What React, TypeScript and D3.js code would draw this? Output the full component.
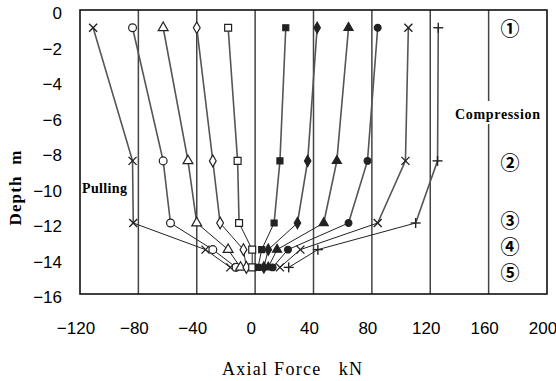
import React from 'react';
import * as d3 from 'd3';

// depths (m) of the five measuring points
const depths = [-1, -8.5, -12, -13.5, -14.5];

// axial force (kN) at each depth, one array per loading step
const seriesNames = ['s1', 's2', 's3', 's4', 's5', 's6', 's7', 's8', 's9', 's10', 's11'];
const seriesMarkers = ['x', 'circle', 'triangle', 'diamond', 'square', 'squareF', 'diamondF', 'triangleF', 'circleF', 'x', 'plus'];
const s1 = [-111, -84, -83.5, -34, -17];
const s2 = [-84, -63, -58, -29, -13];
const s3 = [-63, -46, -40, -18.5, -10];
const s4 = [-40, -29, -24, -8, -6];
const s5 = [-18.5, -12, -11, -2, -2];
const s6 = [21, 17, 13, 4.5, 2];
const s7 = [42.5, 36, 29, 9, 6];
const s8 = [64, 56, 47, 15, 9];
const s9 = [84, 77, 64, 22.5, 12];
const s10 = [105, 103, 84, 31, 17];
const s11 = [125.5, 125, 110, 43, 23];
const seriesValues = [s1, s2, s3, s4, s5, s6, s7, s8, s9, s10, s11];

const xTicks = [-120, -80, -40, 0, 40, 80, 120, 160, 200];
const yTicks = [0, -2, -4, -6, -8, -10, -12, -14, -16];
const gridX = [-80, -40, 0, 40, 80, 120, 160];
const stageLabels = ['①', '②', '③', '④', '⑤'];
const stageDepths = [-1.1, -8.7, -11.95, -13.4, -14.9];

const W = 556;
const H = 381;

const x = d3.scaleLinear().domain([-120, 200]).range([80, 547]);
const y = d3.scaleLinear().domain([0, -16]).range([10, 294]);

const minus = (v: number) => (v < 0 ? '\u2212' + Math.abs(v) : String(v));

const Marker = ({ type, cx, cy }: { type: string; cx: number; cy: number }) => {
  const filled = type.endsWith('F');
  const base = type.replace('F', '');
  const fill = filled ? '#222' : '#fff';
  if (base === 'x') {
    return (
      <g stroke="#222" strokeWidth={1.4}>
        <line x1={cx - 4} y1={cy - 4} x2={cx + 4} y2={cy + 4} />
        <line x1={cx - 4} y1={cy + 4} x2={cx + 4} y2={cy - 4} />
      </g>
    );
  }
  if (base === 'plus') {
    return (
      <g stroke="#222" strokeWidth={1.4}>
        <line x1={cx - 5} y1={cy} x2={cx + 5} y2={cy} />
        <line x1={cx} y1={cy - 5} x2={cx} y2={cy + 5} />
      </g>
    );
  }
  const symType =
    base === 'circle' ? d3.symbolCircle :
    base === 'triangle' ? d3.symbolTriangle :
    base === 'diamond' ? d3.symbolDiamond : d3.symbolSquare;
  const size = filled ? 36 : base === 'diamond' ? 40 : base === 'triangle' ? 42 : 48;
  const p = d3.symbol().type(symType).size(size)() as string;
  return (
    <path d={p} transform={`translate(${cx},${cy})`} fill={fill} stroke="#222" strokeWidth={1.2} />
  );
};

export default function App() {
  const line = d3.line<[number, number]>().x((d) => x(d[0])).y((d) => y(d[1]));

  return (
    <svg width={W} height={H} style={{ position: 'absolute', left: 0, top: 0, background: '#fff' }}>
      {/* vertical grid lines */}
      {gridX.map((v) =>
        v === 160 ? (
          <g key={v}>
            <line x1={x(v)} x2={x(v)} y1={y(0)} y2={101} stroke="#444" strokeWidth={1.5} />
            <line x1={x(v)} x2={x(v)} y1={124} y2={y(-16)} stroke="#444" strokeWidth={1.5} />
          </g>
        ) : (
          <line key={v} x1={x(v)} x2={x(v)} y1={y(0)} y2={y(-16)} stroke="#444" strokeWidth={1.5} />
        )
      )}
      <rect x={x(-120)} y={y(0)} width={x(200) - x(-120)} height={y(-16) - y(0)} fill="none" stroke="#111" strokeWidth={1.6} />

      {/* series lines: upper part grey, lower convergence thinner */}
      {seriesValues.map((vals, i) => {
        const pts = vals.map((v, j) => [v, depths[j]] as [number, number]);
        return (
          <g key={seriesNames[i]}>
            <path d={line(pts.slice(0, 3)) as string} fill="none" stroke="#555" strokeWidth={1.6} />
            <path d={line(pts.slice(2)) as string} fill="none" stroke="#222" strokeWidth={1} />
          </g>
        );
      })}
      {seriesValues.map((vals, i) =>
        vals.map((v, j) => (
          <Marker key={seriesNames[i] + j} type={seriesMarkers[i]} cx={x(v)} cy={y(depths[j])} />
        ))
      )}

      {/* tick labels */}
      {yTicks.map((t) => (
        <text key={t} x={62} y={y(t) + 9} textAnchor="end" fontFamily="'Liberation Sans', Arial, sans-serif" fontSize={17} fontWeight={500}>
          {minus(t)}
        </text>
      ))}
      {xTicks.map((t) => (
        <text key={t} x={x(t) - 4} y={334} textAnchor="middle" fontFamily="'Liberation Sans', Arial, sans-serif" fontSize={17} fontWeight={500}>
          {minus(t)}
        </text>
      ))}

      {/* annotations */}
      <text x={455} y={119} fontFamily="'Liberation Serif', serif" fontSize={14} fontWeight="bold" textLength={85}>Compression</text>
      <text x={82} y={193} fontFamily="'Liberation Serif', serif" fontSize={14} fontWeight="bold" textLength={45}>Pulling</text>
      {stageLabels.map((s, i) => (
        <text key={s} x={510} y={y(stageDepths[i]) + 6} textAnchor="middle" fontFamily="'Noto Sans CJK JP', 'DejaVu Sans', sans-serif" fontSize={19} fontWeight="bold">
          {s}
        </text>
      ))}

      {/* axis titles */}
      <text x={292} y={375} textAnchor="middle" fontFamily="'Liberation Serif', serif" fontSize={18} textLength={140}>
        Axial Force{'\u00a0\u00a0\u00a0'}kN
      </text>
      <text transform="translate(21,188) rotate(-90)" textAnchor="middle" fontFamily="'Liberation Serif', serif" fontSize={17} fontWeight="bold" textLength={75}>
        Depth{'\u00a0\u00a0'}m
      </text>
    </svg>
  );
}
